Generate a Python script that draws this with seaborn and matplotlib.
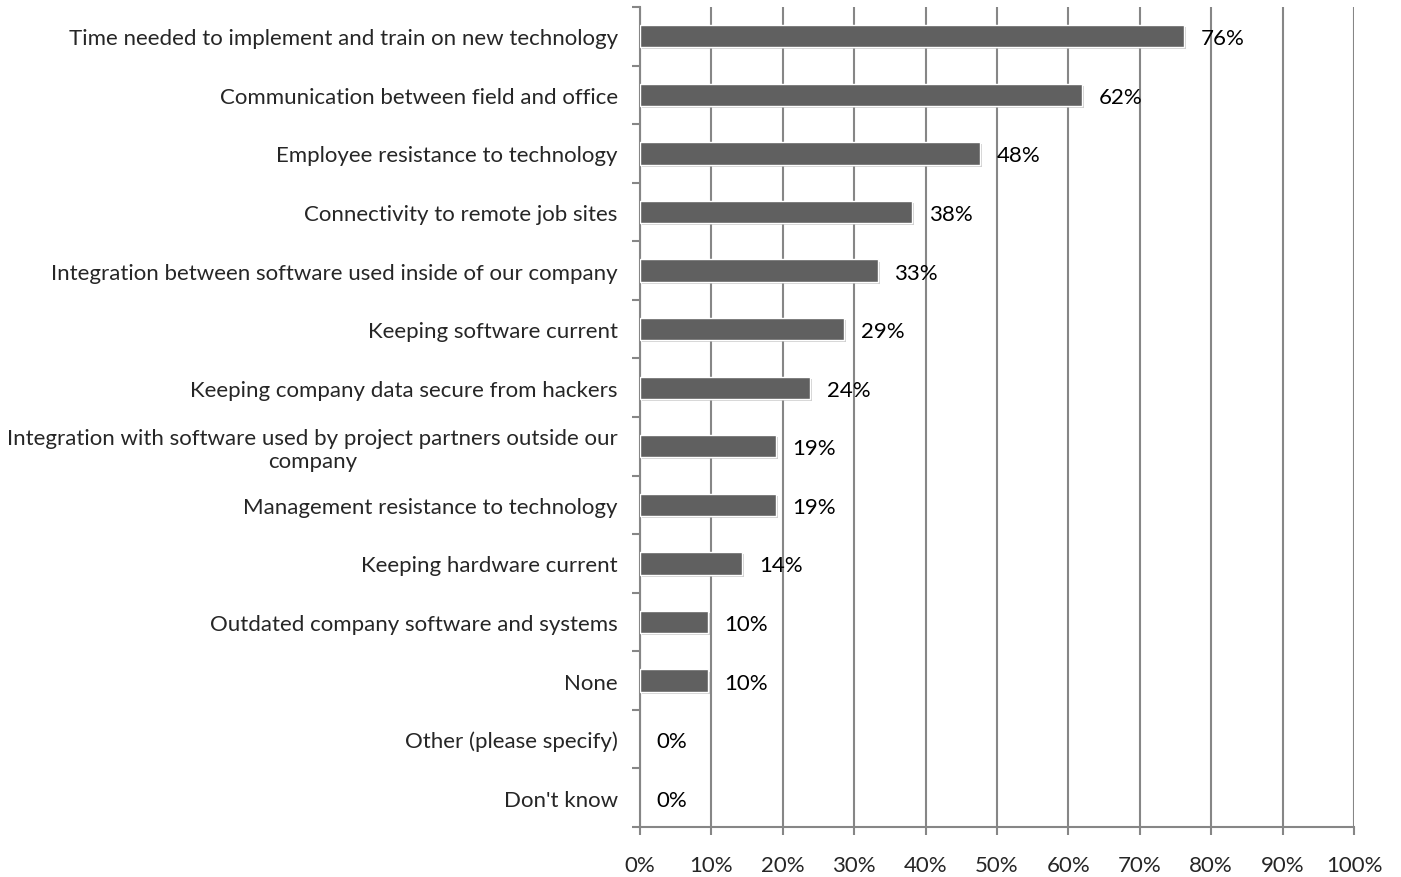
import matplotlib
matplotlib.use('Agg')
import matplotlib.pyplot as plt
import matplotlib.patheffects as pe
import seaborn as sns
import pandas as pd
import numpy as np

categories = [
    'Time needed to implement and train on new technology',
    'Communication between field and office',
    'Employee resistance to technology',
    'Connectivity to remote job sites',
    'Integration between software used inside of our company',
    'Keeping software current',
    'Keeping company data secure from hackers',
    'Integration with software used by project partners outside our\ncompany',
    'Management resistance to technology',
    'Keeping hardware current',
    'Outdated company software and systems',
    'None',
    'Other (please specify)',
    "Don't know",
]
values = [76.2, 61.9, 47.6, 38.1, 33.3, 28.6, 23.8, 19.0, 19.0, 14.3, 9.5, 9.5, 0.0, 0.0]
value_labels = ['76%', '62%', '48%', '38%', '33%', '29%', '24%', '19%', '19%', '14%', '10%', '10%', '0%', '0%']
x_ticks = [0, 10, 20, 30, 40, 50, 60, 70, 80, 90, 100]

df = pd.DataFrame({'category': categories, 'value': values})

sns.set_style('white')
plt.rcParams['font.family'] = ['Lato', 'DejaVu Sans']

grid_col = '#868686'
fig = plt.figure(figsize=(14.01, 8.78), dpi=100)
ax = fig.add_axes([640 / 1401, 1 - 828 / 878, 714 / 1401, 820 / 878])

g = sns.barplot(data=df, x='value', y='category', orient='h', color='#606060',
                width=0.38, edgecolor='white', linewidth=1, saturation=1, ax=ax, zorder=3)
for p in g.patches:
    if p.get_width() == 0:
        p.set_linewidth(0)
        continue
    p.set_path_effects([pe.SimplePatchShadow(offset=(1.5, -1.5), shadow_rgbFace='#b0b0b0', alpha=0.6),
                        pe.Normal()])

texts = g.bar_label(g.containers[0], labels=value_labels, padding=12, fontsize=16, color='black')
for t in texts:
    t.set_va('center_baseline')

ax.set_xlim(0, 100)
ax.set_ylim(len(categories) - 0.5, -0.5)
ax.set_xticks(x_ticks)
ax.set_xticklabels([f'{t}%' for t in x_ticks], fontsize=16)
ax.set_xlabel('')
ax.set_ylabel('')
ax.set_yticks(np.arange(len(categories)))
ax.set_yticklabels(categories, fontsize=16)
for lab in ax.get_yticklabels():
    lab.set_multialignment('center')
ax.set_yticks(np.arange(-0.5, len(categories)), minor=True)
ax.tick_params(axis='y', which='major', left=True, length=0, pad=16)
ax.tick_params(axis='y', which='minor', left=True, length=6, width=1.5, color=grid_col)
ax.tick_params(axis='x', which='major', bottom=True, length=6, width=1.5, color=grid_col, pad=14)

ax.grid(axis='x', color=grid_col, linewidth=1.5, zorder=0)
ax.set_axisbelow(True)
for s in ['top', 'right']:
    ax.spines[s].set_visible(False)
for s in ['left', 'bottom']:
    ax.spines[s].set_color(grid_col)
    ax.spines[s].set_linewidth(1.5)

fig.savefig('out.png', dpi=100)
